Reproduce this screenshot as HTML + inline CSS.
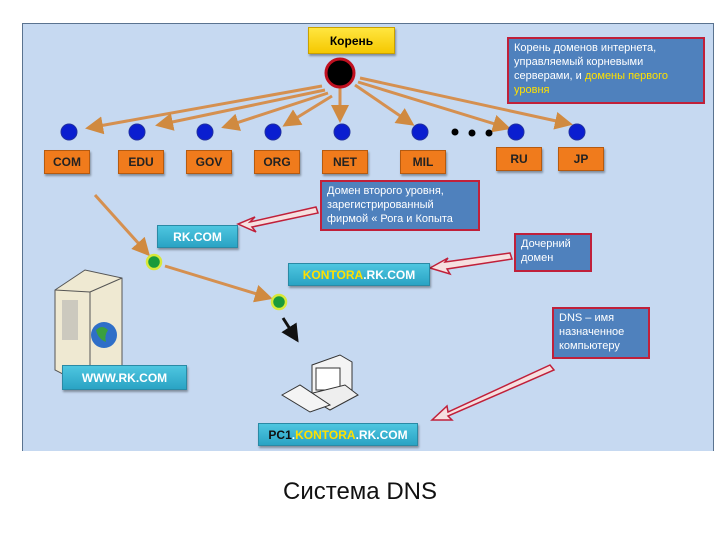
<!DOCTYPE html>
<html><head><meta charset="utf-8"><style>
body{margin:0;width:720px;height:540px;background:#fff;overflow:hidden;font-family:"Liberation Sans","DejaVu Sans",sans-serif}
.panel{position:absolute;left:22px;top:23px;width:690px;height:427px;background:#c6d9f1;border:1px solid #5a7390;border-bottom:none}
.b{position:absolute;display:flex;align-items:center;justify-content:center;font-weight:bold;font-size:12px;box-shadow:1px 2px 2px rgba(0,0,0,.35)}
.o{background:#f07b1c;border:1px solid #b55a10;color:#222}
.t{background:linear-gradient(#4ec6e0,#2aa3c4);color:#fff;border:1px solid #2a8aa5}
.i{position:absolute;background:#4f81bd;border:2px solid #c0203a;color:#fff;font-size:11px;line-height:14px;padding:2px 5px;box-sizing:border-box}
.y{color:#ffe000}
svg{position:absolute;left:0;top:0}
</style></head><body>
<div class="panel"></div>
<svg width="720" height="540">
<defs><marker id="a" markerWidth="6" markerHeight="6" refX="5" refY="3" orient="auto"><path d="M0,0L6,3L0,6z" fill="#d08a40"/></marker>
<marker id="k" markerWidth="6" markerHeight="6" refX="5" refY="3" orient="auto"><path d="M0,0L6,3L0,6z" fill="#111"/></marker></defs>
<g stroke="#d59050" stroke-width="3" marker-end="url(#a)">
<line x1="322" y1="86" x2="88" y2="128"/>
<line x1="325" y1="90" x2="158" y2="125"/>
<line x1="328" y1="93" x2="224" y2="127"/>
<line x1="332" y1="96" x2="285" y2="125"/>
<line x1="340" y1="88" x2="340" y2="120"/>
<line x1="355" y1="85" x2="412" y2="124"/>
<line x1="358" y1="82" x2="508" y2="128"/>
<line x1="360" y1="78" x2="570" y2="124"/>
<line x1="95" y1="195" x2="148" y2="254"/>
<line x1="165" y1="266" x2="270" y2="298"/>
</g>
<line x1="283" y1="318" x2="297" y2="340" stroke="#111" stroke-width="3" marker-end="url(#k)"/>
<g fill="#f6e0e0" stroke="#c0203a" stroke-width="1.5">
<path d="M316,207L250,222L255,217L238,224L256,232L252,227L318,213z"/>
<path d="M510,253L445,262L448,258L430,268L450,274L447,269L512,259z"/>
<path d="M550,365L448,412L447,406L432,420L452,420L448,416L554,370z"/>
</g>
<g fill="#0a1ed0" stroke="#2030a0"><circle cx="69" cy="132" r="8"/><circle cx="137" cy="132" r="8"/><circle cx="205" cy="132" r="8"/><circle cx="273" cy="132" r="8"/><circle cx="342" cy="132" r="8"/><circle cx="420" cy="132" r="8"/><circle cx="516" cy="132" r="8"/><circle cx="577" cy="132" r="8"/></g>
<g fill="#000"><circle cx="455" cy="132" r="3.5"/><circle cx="472" cy="133" r="3.5"/><circle cx="489" cy="133" r="3.5"/></g>
<circle cx="340" cy="73" r="14" fill="#000" stroke="#c01020" stroke-width="3"/>
<circle cx="154" cy="262" r="7" fill="#1a9a3a" stroke="#d8e83a" stroke-width="2.5"/>
<circle cx="279" cy="302" r="7" fill="#1a9a3a" stroke="#d8e83a" stroke-width="2.5"/>
<path d="M55,290L85,270L122,278L122,380L90,388L55,370z" fill="#efe9d2" stroke="#555"/>
<path d="M90,292L122,278M90,292L90,388M55,290L90,292" stroke="#555" fill="none"/>
<rect x="62" y="300" width="16" height="40" fill="#aaa" opacity=".5"/>
<circle cx="104" cy="335" r="13" fill="#2f6fc8"/><path d="M96,330q6,-6 12,0q-4,6 -2,12q-8,-3 -10,-12z" fill="#3aa040"/>
<path d="M312,365L340,355L352,362L352,395L323,405L312,398z" fill="#f4f4f4" stroke="#333"/>
<rect x="316" y="368" width="24" height="22" fill="#fff" stroke="#333"/>
<path d="M305,395L345,385L358,395L330,410z" fill="#eee" stroke="#333"/>
<path d="M282,395L300,385L330,405L310,412z" fill="#f4f4f4" stroke="#333"/>
</svg>
<div class="b" style="left:308px;top:27px;width:85px;height:25px;background:linear-gradient(#ffe640,#f5c800);border:1px solid #c9a000">Корень</div>
<div class="i" style="left:507px;top:37px;width:198px;height:67px">Корень доменов интернета, управляемый корневыми серверами, и <span class="y">домены первого уровня</span></div>
<div class="b o" style="left:44px;top:150px;width:44px;height:22px">COM</div>
<div class="b o" style="left:118px;top:150px;width:44px;height:22px">EDU</div>
<div class="b o" style="left:186px;top:150px;width:44px;height:22px">GOV</div>
<div class="b o" style="left:254px;top:150px;width:44px;height:22px">ORG</div>
<div class="b o" style="left:322px;top:150px;width:44px;height:22px">NET</div>
<div class="b o" style="left:400px;top:150px;width:44px;height:22px">MIL</div>
<div class="b o" style="left:496px;top:147px;width:44px;height:22px">RU</div>
<div class="b o" style="left:558px;top:147px;width:44px;height:22px">JP</div>
<div class="i" style="left:320px;top:180px;width:160px;height:51px">Домен второго уровня, зарегистрированный фирмой « Рога и Копыта</div>
<div class="b t" style="left:157px;top:225px;width:79px;height:21px">RK.COM</div>
<div class="i" style="left:514px;top:233px;width:78px;height:39px">Дочерний домен</div>
<div class="b t" style="left:288px;top:263px;width:140px;height:21px"><span class="y">KONTORA</span>.RK.COM</div>
<div class="i" style="left:552px;top:307px;width:98px;height:52px">DNS – имя назначенное компьютеру</div>
<div class="b t" style="left:62px;top:365px;width:123px;height:23px">WWW.RK.COM</div>
<div class="b t" style="left:258px;top:423px;width:158px;height:21px"><span style="color:#111">PC1</span>.<span class="y">KONTORA</span>.RK.COM</div>
<div style="position:absolute;left:0;width:720px;top:478px;text-align:center;font-size:24px;color:#111">Система DNS</div>
</body></html>
